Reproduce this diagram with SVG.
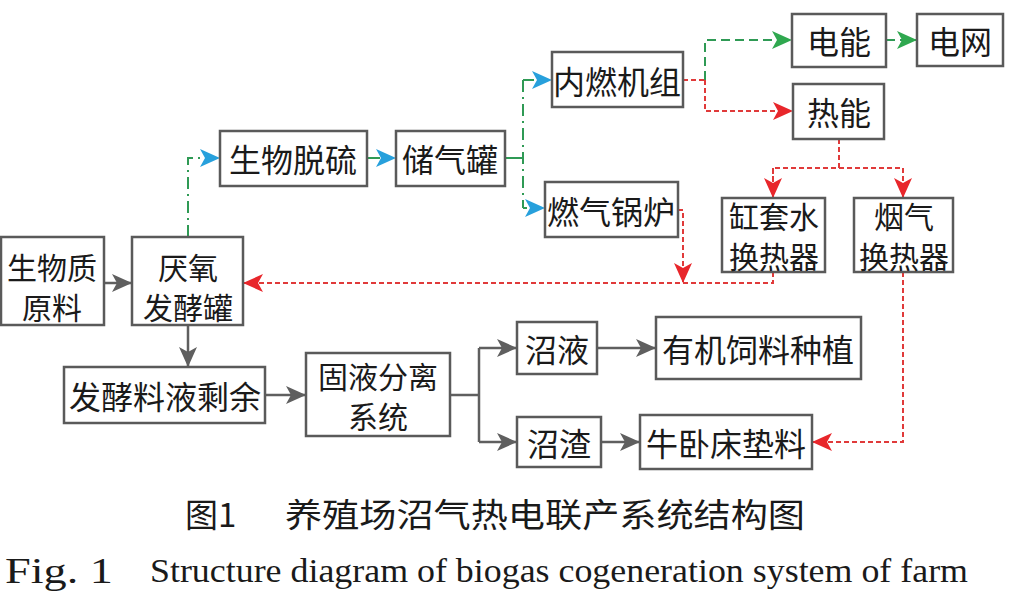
<svg xmlns="http://www.w3.org/2000/svg" width="1015" height="616" viewBox="0 0 1015 616">
<style>
.box{fill:#fff;stroke:#5a5a5a;stroke-width:2.5}
.t{font-family:"Noto Sans CJK SC","Noto Sans",sans-serif;font-size:32px;fill:#1a1a1a;text-anchor:middle;dominant-baseline:central}
.t2{font-family:"Noto Sans CJK SC","Noto Sans",sans-serif;font-size:30px;fill:#1a1a1a;text-anchor:middle;dominant-baseline:central}
.g{fill:none;stroke:#5f5f5f;stroke-width:2.5}
.gs{fill:none;stroke:#2f9a55;stroke-width:2}
.gd{fill:none;stroke:#2f9a55;stroke-width:2;stroke-dasharray:9,5}
.gdd{fill:none;stroke:#2f9a55;stroke-width:2;stroke-dasharray:12,5,2,5}
.r{fill:none;stroke:#e03a3a;stroke-width:2;stroke-dasharray:5,3}
.cap{font-family:"Noto Sans CJK SC",sans-serif;font-size:33px;fill:#1a1a1a;dominant-baseline:central}
.en{font-family:"Liberation Serif",serif;font-size:33px;fill:#1a1a1a;dominant-baseline:central}
</style>
<defs>
<marker id="ag" markerUnits="userSpaceOnUse" markerWidth="22" markerHeight="20" refX="20" refY="9" orient="auto"><path d="M0,0 L20,9 L0,18 L5,9 Z" fill="#5f5f5f"/></marker>
<marker id="ab" markerUnits="userSpaceOnUse" markerWidth="22" markerHeight="20" refX="20" refY="9" orient="auto"><path d="M0,0 L20,9 L0,18 L5,9 Z" fill="#27a0dc"/></marker>
<marker id="agr" markerUnits="userSpaceOnUse" markerWidth="22" markerHeight="20" refX="20" refY="9" orient="auto"><path d="M0,0 L20,9 L0,18 L5,9 Z" fill="#2fa84f"/></marker>
<marker id="ar" markerUnits="userSpaceOnUse" markerWidth="22" markerHeight="20" refX="20" refY="9" orient="auto"><path d="M0,0 L20,9 L0,18 L5,9 Z" fill="#e8262b"/></marker>
</defs>
<rect width="1015" height="616" fill="#fff"/>
<g id="connectors">
<path class="g" d="M104,283 H132" marker-end="url(#ag)"/>
<path class="gdd" d="M188,237 V158 H200"/>
<path d="M198,158 H220" fill="none" stroke="none" marker-end="url(#ab)"/>
<path class="gs" d="M367,158 H380"/>
<path d="M376,158 H396" fill="none" stroke="none" marker-end="url(#ab)"/>
<path class="gs" d="M505,158 H523"/>
<path class="gdd" d="M523,80 V208"/>
<path class="gs" d="M523,80 H534"/>
<path d="M532,80 H552" fill="none" stroke="none" marker-end="url(#ab)"/>
<path class="gs" d="M523,208 H527"/>
<path d="M525,208 H545" fill="none" stroke="none" marker-end="url(#ab)"/>
<path class="r" d="M683,80 H705"/>
<path class="gd" d="M705,80 V40 H792" marker-end="url(#agr)"/>
<path class="r" d="M705,80 V111 H793" marker-end="url(#ar)"/>
<path class="gd" d="M886,40 H917" marker-end="url(#agr)"/>
<path class="r" d="M839,139 V168"/>
<path class="r" d="M773,198 V168 H903 V198"/>
<path class="r" d="M773,168 V198" marker-end="url(#ar)"/>
<path class="r" d="M903,168 V198" marker-end="url(#ar)"/>
<path class="r" d="M678,210 H683 V283" marker-end="url(#ar)"/>
<path class="r" d="M773,272 V283 H243" marker-end="url(#ar)"/>
<path class="r" d="M903,272 V442 H812" marker-end="url(#ar)"/>
<path class="g" d="M188,325 V367" marker-end="url(#ag)"/>
<path class="g" d="M265,395 H306" marker-end="url(#ag)"/>
<path class="g" d="M450,395 H479"/>
<path class="g" d="M479,348 V442"/>
<path class="g" d="M479,348 H517" marker-end="url(#ag)"/>
<path class="g" d="M479,442 H517" marker-end="url(#ag)"/>
<path class="g" d="M597,348 H656" marker-end="url(#ag)"/>
<path class="g" d="M601,442 H640" marker-end="url(#ag)"/>
</g>
<g id="n1"><rect class="box" x="1" y="237" width="103" height="88"/><text class="t2" x="52" y="266">生物质</text><text class="t2" x="52" y="306">原料</text></g>
<g id="n2"><rect class="box" x="132" y="237" width="111" height="88"/><text class="t2" x="188" y="266">厌氧</text><text class="t2" x="188" y="306">发酵罐</text></g>
<g id="n3"><rect class="box" x="220" y="131" width="147" height="55"/><text class="t" x="293" y="158">生物脱硫</text></g>
<g id="n4"><rect class="box" x="396" y="131" width="109" height="55"/><text class="t" x="450" y="158">储气罐</text></g>
<g id="n5"><rect class="box" x="552" y="52" width="131" height="55"/><text class="t" x="617" y="80">内燃机组</text></g>
<g id="n6"><rect class="box" x="545" y="182" width="133" height="55"/><text class="t" x="611" y="210">燃气锅炉</text></g>
<g id="n7"><rect class="box" x="792" y="14" width="94" height="53"/><text class="t" x="839" y="40">电能</text></g>
<g id="n8"><rect class="box" x="917" y="14" width="86" height="52"/><text class="t" x="960" y="40">电网</text></g>
<g id="n9"><rect class="box" x="793" y="84" width="91" height="55"/><text class="t" x="839" y="111">热能</text></g>
<g id="n10"><rect class="box" x="722" y="198" width="103" height="74"/><text class="t2" x="774" y="215">缸套水</text><text class="t2" x="774" y="255">换热器</text></g>
<g id="n11"><rect class="box" x="854" y="198" width="99" height="74"/><text class="t2" x="904" y="215">烟气</text><text class="t2" x="904" y="255">换热器</text></g>
<g id="n12"><rect class="box" x="64" y="367" width="201" height="56"/><text class="t" x="165" y="395">发酵料液剩余</text></g>
<g id="n13"><rect class="box" x="306" y="353" width="144" height="83"/><text class="t2" x="378" y="375">固液分离</text><text class="t2" x="378" y="415">系统</text></g>
<g id="n14"><rect class="box" x="517" y="322" width="80" height="52"/><text class="t" x="557" y="348">沼液</text></g>
<g id="n15"><rect class="box" x="656" y="317" width="205" height="62"/><text class="t" x="758" y="348">有机饲料种植</text></g>
<g id="n16"><rect class="box" x="517" y="417" width="84" height="50"/><text class="t" x="559" y="442">沼渣</text></g>
<g id="n17"><rect class="box" x="640" y="415" width="172" height="54"/><text class="t" x="726" y="442">牛卧床垫料</text></g>
<g id="caption">
<text class="cap" x="185" y="513">图1</text>
<text class="cap" x="285" y="513" textLength="520" lengthAdjust="spacingAndGlyphs">养殖场沼气热电联产系统结构图</text>
<text class="en" x="5" y="571" style="font-size:36px" textLength="108" lengthAdjust="spacingAndGlyphs">Fig. 1</text>
<text class="en" x="150" y="571" textLength="818" lengthAdjust="spacingAndGlyphs">Structure diagram of biogas cogeneration system of farm</text>
</g>
</svg>
